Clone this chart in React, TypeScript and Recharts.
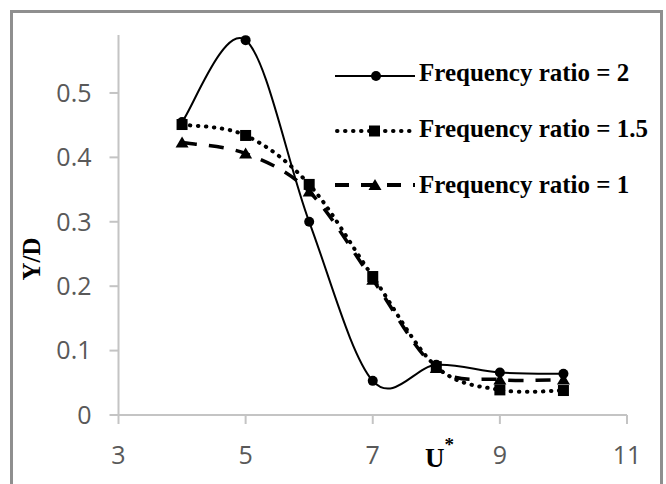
import React from 'react';
import { LineChart, Line, XAxis, YAxis, Legend } from 'recharts';

const uStar = [4, 5, 6, 7, 8, 9, 10];
const fr2 = [0.455, 0.582, 0.3, 0.053, 0.078, 0.066, 0.064];
const fr15 = [0.451, 0.434, 0.358, 0.215, 0.075, 0.039, 0.038];
const fr1 = [0.423, 0.406, 0.347, 0.21, 0.073, 0.055, 0.055];
const xTicks = [3, 5, 7, 9, 11];
const yTicks = [0, 0.1, 0.2, 0.3, 0.4, 0.5];
const seriesNames = ['Frequency ratio = 2', 'Frequency ratio = 1.5', 'Frequency ratio = 1'];

const data = uStar.map((u, i) => ({ u, a: fr2[i], b: fr15[i], c: fr1[i] }));

// Excel-style smoothing (uniform Catmull-Rom as cubic Bezier)
function excelSmooth(context: any) {
  let pts: number[][] = [];
  return {
    areaStart() {},
    areaEnd() {},
    lineStart() {
      pts = [];
    },
    lineEnd() {
      const n = pts.length;
      if (!n) return;
      context.moveTo(pts[0][0], pts[0][1]);
      for (let i = 0; i < n - 1; i++) {
        const p0 = pts[i === 0 ? 0 : i - 1];
        const p1 = pts[i];
        const p2 = pts[i + 1];
        const p3 = pts[i + 2 < n ? i + 2 : n - 1];
        context.bezierCurveTo(
          p1[0] + (p2[0] - p0[0]) / 6,
          p1[1] + (p2[1] - p0[1]) / 6,
          p2[0] - (p3[0] - p1[0]) / 6,
          p2[1] - (p3[1] - p1[1]) / 6,
          p2[0],
          p2[1]
        );
      }
    },
    point(x: number, y: number) {
      pts.push([+x, +y]);
    },
  };
}

const CircleDot = (p: any) => <circle key={p.index} cx={p.cx} cy={p.cy} r={5} fill="#000" />;
const SquareDot = (p: any) => (
  <rect key={p.index} x={p.cx - 5.5} y={p.cy - 5.5} width={11} height={11} fill="#000" />
);
const TriDot = (p: any) => (
  <polygon
    key={p.index}
    points={`${p.cx},${p.cy - 6} ${p.cx + 6.5},${p.cy + 5} ${p.cx - 6.5},${p.cy + 5}`}
    fill="#000"
  />
);

const serif = '"Liberation Serif", "Times New Roman", serif';
const sans = '"Open Sans", Calibri, sans-serif';

const LegendBox = () => {
  const rows = [76, 131, 185];
  const base = [81, 137, 193];
  return (
    <svg width={330} height={170} style={{ overflow: 'visible', display: 'block' }}>
      <g transform="translate(-330,-50)">
        <line x1={335} x2={415} y1={rows[0]} y2={rows[0]} stroke="#000" strokeWidth={2.2} />
        <circle cx={376} cy={rows[0]} r={5} fill="#000" />
        <line x1={337} x2={413} y1={rows[1]} y2={rows[1]} stroke="#000" strokeWidth={4} strokeDasharray="0.5 7.5" strokeLinecap="round" />
        <rect x={369} y={rows[1] - 5.5} width={11} height={11} fill="#000" />
        <line x1={335} x2={415} y1={rows[2]} y2={rows[2]} stroke="#000" strokeWidth={4} strokeDasharray="14 12" />
        <polygon points={`375,${rows[2] - 6} 381.5,${rows[2] + 5} 368.5,${rows[2] + 5}`} fill="#000" />
        {seriesNames.map((n, i) => (
          <text key={n} x={419} y={base[i]} fontFamily={serif} fontWeight="bold" fontSize={25} fill="#000">
            {n}
          </text>
        ))}
      </g>
    </svg>
  );
};

const YLabel = () => (
  <text transform="translate(40,259) rotate(-90)" textAnchor="middle" fontFamily={serif} fontWeight="bold" fontSize={25} fill="#000">
    Y/D
  </text>
);

const XLabel = () => (
  <text x={425} y={467} fontFamily={serif} fontWeight="bold" fontSize={27} fill="#000">
    U
    <tspan dy={-16} fontSize={19}>*</tspan>
  </text>
);

export default function App() {
  return (
    <div style={{ position: 'absolute', left: 0, top: 0, width: 666, height: 484, overflow: 'hidden', background: '#fff' }}>
      <div
        style={{
          position: 'absolute',
          left: 10,
          top: 10,
          width: 647,
          height: 500,
          border: '3px solid #8f8f8f',
        }}
      />
      <div style={{ position: 'absolute', left: 0, top: 0 }}>
        <LineChart width={666} height={484} data={data} margin={{ top: 35, right: 39, left: 0, bottom: 0 }}>
          <XAxis
            type="number"
            dataKey="u"
            domain={[3, 11]}
            ticks={xTicks}
            stroke="#c4c4c4"
            strokeWidth={2}
            tickSize={9}
            tickMargin={22}
            height={69}
            tick={{ fill: '#595959', fontSize: 25, fontFamily: sans }}
            label={<XLabel />}
            interval={0}
          />
          <YAxis
            type="number"
            domain={[0, 0.59]}
            ticks={yTicks}
            stroke="#c4c4c4"
            strokeWidth={2}
            tickSize={9}
            tickMargin={18}
            width={118.5}
            tick={{ fill: '#595959', fontSize: 25, fontFamily: sans }}
            tickFormatter={(v: number) => (v === 0 ? '0' : v.toFixed(1))}
            label={<YLabel />}
            interval={0}
          />
          <Legend
            layout="horizontal"
            verticalAlign="middle"
            align="center"
            content={<LegendBox />}
            wrapperStyle={{ position: 'absolute', left: 330, top: 50, width: 330, height: 170 }}
          />
          <Line
            dataKey="c"
            name={seriesNames[2]}
            type={excelSmooth as any}
            stroke="#000"
            strokeWidth={3.5}
            strokeDasharray="15 12"
            dot={TriDot}
            activeDot={false}
            isAnimationActive={false}
          />
          <Line
            dataKey="b"
            name={seriesNames[1]}
            type={excelSmooth as any}
            stroke="#000"
            strokeWidth={4}
            strokeDasharray="0.5 7.5"
            strokeLinecap="round"
            dot={SquareDot}
            activeDot={false}
            isAnimationActive={false}
          />
          <Line
            dataKey="a"
            name={seriesNames[0]}
            type={excelSmooth as any}
            stroke="#000"
            strokeWidth={2}
            dot={CircleDot}
            activeDot={false}
            isAnimationActive={false}
          />
        </LineChart>
      </div>
    </div>
  );
}
